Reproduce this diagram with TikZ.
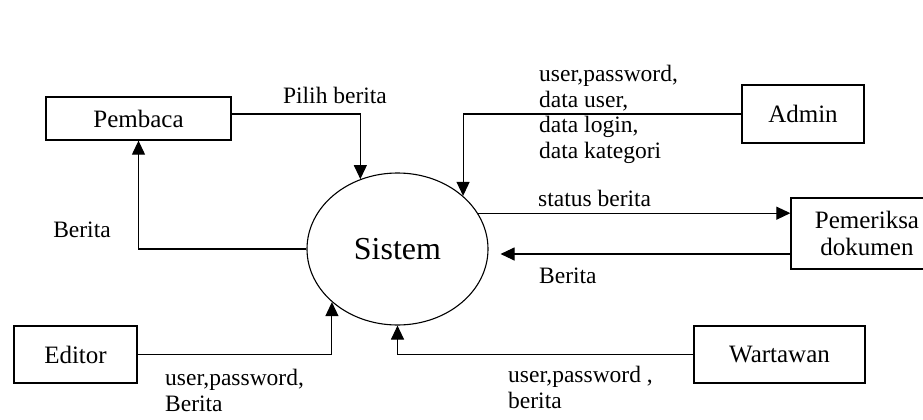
\documentclass[tikz,border=0pt]{standalone}
\usepackage{fontspec}
\setmainfont{Liberation Serif}
\usetikzlibrary{arrows.meta,shapes.geometric}

\begin{document}
\begin{tikzpicture}[x=1pt,y=-1pt,
  entity/.style={draw, line width=1.3pt, inner sep=0pt, align=center,
    font=\fontsize{25}{27}\selectfont},
  process/.style={ellipse, draw, line width=1.1pt, inner sep=0pt,
    font=\fontsize{32}{36}\selectfont},
  flow/.style={line width=1.1pt, -{Triangle[length=14pt,width=13pt]}},
  lbl/.style={inner sep=0pt, align=left, font=\fontsize{23.5}{25.7}\selectfont}
]
\useasboundingbox (0,0) rectangle (923,420);
\clip (0,0) rectangle (923,420);

% external entities
\node[entity, minimum width=185pt, minimum height=43pt] (pemb)  at (138.5,118.5) {Pembaca};
\node[entity, minimum width=123pt, minimum height=57pt] (edit)  at (75.5,354.5)  {Editor};
\node[entity, minimum width=122pt, minimum height=58pt] (admin) at (803,114)     {Admin};
\node[entity, minimum width=152pt, minimum height=71pt] (pem)   at (867,233.5)   {Pemeriksa\\dokumen};
\node[entity, minimum width=171pt, minimum height=57pt] (wart)  at (779.5,354.5) {Wartawan};

% the single process
\node[process, minimum width=181pt, minimum height=152pt] (sis) at (397.5,249) {Sistem};

% data flows
\draw[flow] ([yshift=4.5pt]pemb.east) -| (sis.118.5);
\draw[flow] (sis.west) -| (pemb.south);
\draw[flow] (admin.west) -| (sis.39.6);
\draw[flow] (sis.24.3) -- (sis.24.3 -| pem.west);
\coordinate (pemout) at ([yshift=-20.5pt]pem.west);
\draw[flow, shorten >=12pt] (pemout) -- (pemout -| sis.east);
\draw[flow] (edit.east) -| (sis.219.6);
\draw[flow] (wart.west) -| (sis.south);

% flow labels
\node[lbl] (lpilih) at (335,95) {Pilih berita};
\node[lbl] (lberita) at (82,229.5) {Berita};
\node[lbl, anchor=north west] (ladmin) at (539,65) {user,password,\\data user,\\data login,\\data kategori};
\node[lbl, anchor=west] (lstatus) at (538,198.5) {status berita};
\node[lbl, anchor=west] (lkembali) at (539,276) {Berita};
\node[lbl, anchor=north west] (leditor) at (165,369) {user,password,\\Berita};
\node[lbl, anchor=north west] (lwart) at (508,366) {user,password ,\\berita};
\end{tikzpicture}
\end{document}
